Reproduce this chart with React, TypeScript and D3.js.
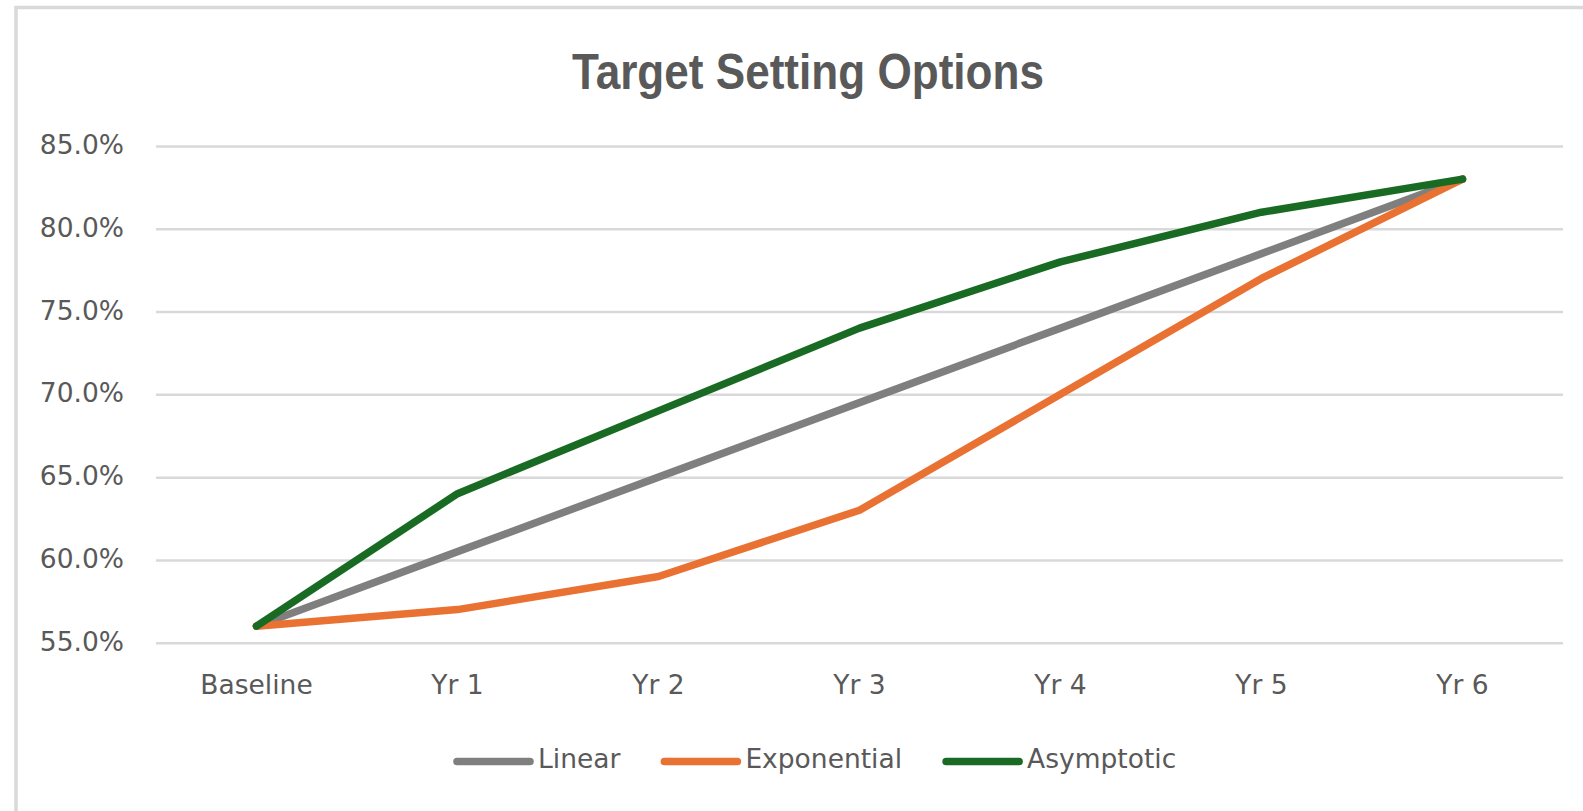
import React, { useEffect, useRef } from "react";
import * as d3 from "d3";

const categories = ["Baseline", "Yr 1", "Yr 2", "Yr 3", "Yr 4", "Yr 5", "Yr 6"];
const linearValues = [0.56, 0.605, 0.65, 0.695, 0.74, 0.785, 0.83];
const exponentialValues = [0.56, 0.57, 0.59, 0.63, 0.70, 0.77, 0.83];
const asymptoticValues = [0.56, 0.64, 0.69, 0.74, 0.78, 0.81, 0.83];
const yTicks = [0.55, 0.6, 0.65, 0.7, 0.75, 0.8, 0.85];
const seriesNames = ["Linear", "Exponential", "Asymptotic"];
const seriesColors = ["#7f7f7f", "#e97132", "#196b24"];
const title = "Target Setting Options";

const W = 1583;
const H = 811;
const FONT = "'DejaVu Sans', Verdana, sans-serif";
const TEXT = "#595959";

export default function App() {
  const ref = useRef<SVGSVGElement | null>(null);

  useEffect(() => {
    document.body.style.margin = "0";
    const svg = d3.select(ref.current!);
    svg.selectAll("*").remove();

    svg.append("rect").attr("x", 0).attr("y", 0).attr("width", W).attr("height", H).attr("fill", "#fff");

    // chart area border (top + left visible)
    svg.append("path")
      .attr("d", `M16,${H} L16,7.5 L${W},7.5`)
      .attr("fill", "none")
      .attr("stroke", "#d9d9d9")
      .attr("stroke-width", 3.5);

    const x = d3.scaleBand<string>().domain(categories).range([156, 1563]);
    const y = d3.scaleLinear().domain([0.55, 0.85]).range([642.7, 146]);

    // title
    svg.append("text")
      .attr("x", 808)
      .attr("y", 89)
      .attr("text-anchor", "middle")
      .attr("font-family", "'Liberation Sans Narrow', 'Liberation Sans', Arial, sans-serif")
      .attr("font-weight", "bold")
      .attr("font-size", 50)
      .attr("fill", TEXT)
      .attr("textLength", 472)
      .attr("lengthAdjust", "spacingAndGlyphs")
      .text(title);

    // gridlines + y labels
    const yAxis = d3.axisLeft(y)
      .tickValues(yTicks)
      .tickSize(-(1563 - 156))
      .tickPadding(32)
      .tickFormat((d) => d3.format(".1%")(d as number));
    const gy = svg.append("g").attr("transform", "translate(156,0)").call(yAxis);
    gy.select(".domain").remove();
    gy.selectAll(".tick line").attr("stroke", "#d9d9d9").attr("stroke-width", 2.5);
    gy.selectAll(".tick text")
      .attr("font-family", FONT)
      .attr("font-size", 26.5)
      .attr("fill", TEXT)
      .attr("dy", "7.5px");

    const xAxis = d3.axisBottom(x).tickSize(0).tickPadding(0);
    const gx = svg.append("g").attr("transform", "translate(0,642.7)").call(xAxis);
    gx.select(".domain").remove();
    gx.selectAll(".tick text")
      .attr("font-family", FONT)
      .attr("font-size", 26.5)
      .attr("fill", TEXT)
      .attr("y", 51)
      .attr("dy", 0);

    const allSeries = [linearValues, exponentialValues, asymptoticValues];
    const line = d3.line<number>()
      .x((_, i) => (x(categories[i]) as number) + x.bandwidth() / 2)
      .y((d) => y(d));

    allSeries.forEach((vals, si) => {
      svg.append("path")
        .datum(vals)
        .attr("d", line)
        .attr("fill", "none")
        .attr("stroke", seriesColors[si])
        .attr("stroke-width", 7.5)
        .attr("stroke-linejoin", "round")
        .attr("stroke-linecap", "round");
    });

    // legend
    const legend = svg.append("g");
    let lx = 457;
    const ly = 761.5;
    seriesNames.forEach((name, i) => {
      legend.append("line")
        .attr("x1", lx).attr("x2", lx + 73)
        .attr("y1", ly).attr("y2", ly)
        .attr("stroke", seriesColors[i])
        .attr("stroke-width", 7.5)
        .attr("stroke-linecap", "round");
      const t = legend.append("text")
        .attr("x", lx + 81)
        .attr("y", 768)
        .attr("font-family", FONT)
        .attr("font-size", 26.5)
        .attr("fill", TEXT)
        .text(name);
      const w = (t.node() as SVGTextElement).getComputedTextLength();
      lx = lx + 81 + w + 44;
    });
  }, []);

  return <svg ref={ref} width={W} height={H} style={{ display: "block" }} />;
}
